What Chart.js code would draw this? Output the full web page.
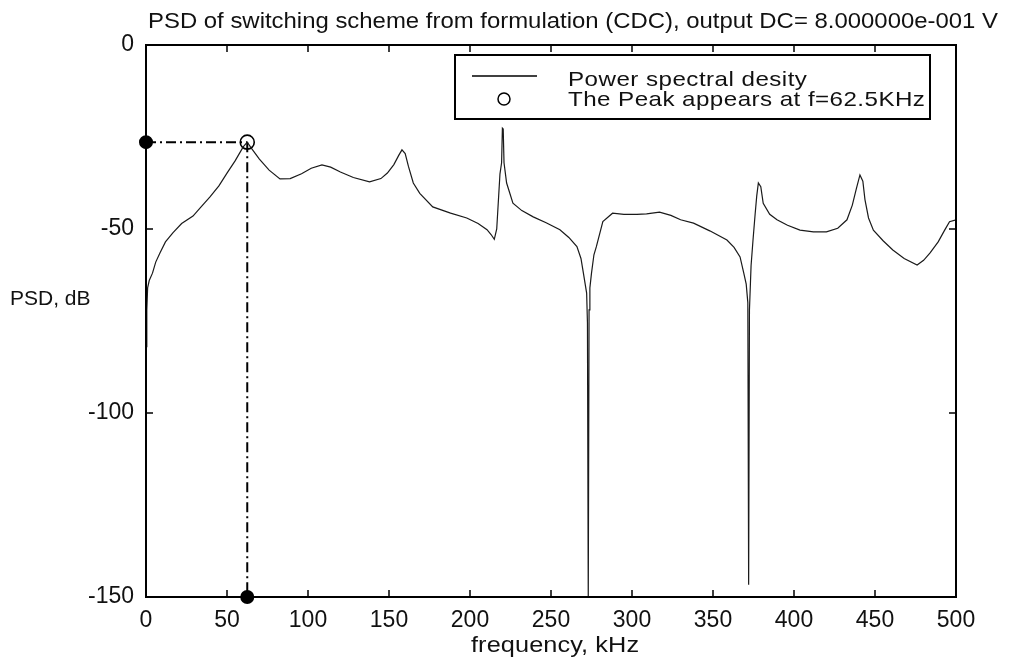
<!DOCTYPE html>
<html>
<head>
<meta charset="utf-8">
<title>PSD of switching scheme</title>
<script src="https://cdn.jsdelivr.net/npm/chart.js@4.4.1/dist/chart.umd.min.js"></script>
<style>
  html, body { margin: 0; padding: 0; background: #fff; }
  #wrap { width: 1010px; height: 661px; }
</style>
</head>
<body>
<div id="wrap"><canvas id="psdChart" width="1010" height="661"></canvas></div>
<script>
// frequency axis of the trace, kHz
const freqKHz = [
  0, 0.5, 1, 2, 4, 6, 8.6, 12, 16.7, 22,
  29, 34, 39.5, 45, 50, 55, 60, 62.5, 65, 70,
  76, 82.7, 89, 96, 102, 108.6, 114, 120, 128, 138,
  145, 149, 153, 156, 158, 160, 162, 165, 169, 177,
  188, 198, 205, 210.5, 213, 215, 216.5, 218.5, 219.5, 220,
  220.5, 221, 222.6, 226.5, 232, 239, 247, 255.5, 261, 266,
  268.5, 270, 272, 272.5, 273, 273.5, 274, 275, 276.5, 278,
  282, 288, 295, 303, 309, 317, 324, 330, 338, 348,
  358.6, 363, 366.7, 369, 370.5, 371.5, 372, 372.5, 373.5, 374.7,
  376, 377, 378, 379.5, 381, 385, 389.5, 396, 403.7, 412,
  420, 427, 432.7, 436, 438.5, 440.7, 442.5, 443.8, 446, 449,
  455, 461, 468, 476, 480, 484, 489, 493, 496, 500
];
// PSD values, dB
const psdDb = [
  -82, -72, -66, -64, -62, -59, -56.5, -53.5, -51, -48.5,
  -46.5, -44, -41.3, -38.3, -34.8, -31.5, -27.7, -26.4, -28, -31,
  -34, -36.4, -36.3, -35, -33.5, -32.6, -33.2, -34.5, -36, -37.2,
  -36.3, -34.8, -32.5, -30, -28.5, -29.5, -33, -37.5, -40.3, -44,
  -45.7, -47, -48.5, -50.2, -51.5, -52.8, -50, -35, -32, -22.6,
  -22.8, -32, -37.5, -43, -45, -46.7, -48.3, -50.2, -52.3, -54.8,
  -58, -62, -67.4, -75.5, -150, -72, -66, -62, -57, -54.8,
  -48, -45.7, -46, -46, -45.9, -45.4, -46.3, -47.5, -48.4, -50.5,
  -53, -55, -57.6, -62, -65, -70, -146.7, -72, -60, -53,
  -46, -41, -37.5, -38.5, -43, -46, -47.5, -49, -50.3, -50.8,
  -50.8, -49.8, -47.5, -43.5, -39, -35.3, -37, -42, -47, -50.3,
  -53.2, -55.7, -58, -59.8, -58.5, -56.5, -53.5, -50.3, -48, -47.5
];

const peakF = 62.5;
const peakDb = -26.4;
const xTicks = [0, 50, 100, 150, 200, 250, 300, 350, 400, 450, 500];
const yTicks = [0, -50, -100, -150];

const titleText = 'PSD of switching scheme from formulation (CDC), output DC= 8.000000e-001 V';
const xTitle = 'frequency, kHz';
const yTitle = 'PSD, dB';
const legendLabels = ['Power spectral desity', 'The Peak appears at f=62.5KHz'];

const FONT = '"Liberation Sans", Arial, Helvetica, sans-serif';
const dashDot = [10, 4, 2, 4];

// the scanned lettering is wider than Arial: stretch it, partly with spacing, partly with scale
function wideText(ctx, txt, x, y, width) {
  const w0 = ctx.measureText(txt).width;
  const k = Math.min(1.15, width / w0);
  const ls = Math.max(0, (width / k - w0) / (txt.length - 1));
  ctx.save();
  ctx.translate(x, y);
  ctx.scale(k, 1);
  ctx.letterSpacing = ls.toFixed(2) + 'px';
  ctx.fillText(txt, 0, 0);
  ctx.restore();
}

const frame = {
  id: 'frame',
  afterDraw(chart) {
    const ctx = chart.ctx;
    const a = chart.chartArea;
    const sx = chart.scales.x, sy = chart.scales.y;
    ctx.save();
    ctx.strokeStyle = '#000';
    ctx.fillStyle = '#111';

    // box
    ctx.lineWidth = 2;
    ctx.strokeRect(a.left, a.top, a.right - a.left, a.bottom - a.top);

    // inward ticks on all four sides
    ctx.lineWidth = 1.5;
    ctx.beginPath();
    xTicks.forEach(v => {
      const px = sx.getPixelForValue(v);
      ctx.moveTo(px, a.bottom); ctx.lineTo(px, a.bottom - 7);
      ctx.moveTo(px, a.top); ctx.lineTo(px, a.top + 7);
    });
    yTicks.forEach(v => {
      const py = sy.getPixelForValue(v);
      ctx.moveTo(a.left, py); ctx.lineTo(a.left + 7, py);
      ctx.moveTo(a.right, py); ctx.lineTo(a.right - 7, py);
    });
    ctx.stroke();

    // titles
    ctx.textBaseline = 'alphabetic';
    ctx.textAlign = 'left';
    ctx.font = '22px ' + FONT;
    wideText(ctx, titleText, 148, 28, 850);
    wideText(ctx, xTitle, 471, 652, 168);
    ctx.font = '21px ' + FONT;
    ctx.fillText(yTitle, 10, 305);

    // legend
    const lx = a.left + 309, ly = a.top + 10, lw = 475, lh = 64;
    ctx.fillStyle = '#fff';
    ctx.fillRect(lx, ly, lw, lh);
    ctx.lineWidth = 2;
    ctx.strokeRect(lx, ly, lw, lh);
    ctx.lineWidth = 1.5;
    ctx.beginPath();
    ctx.moveTo(lx + 17, ly + 21); ctx.lineTo(lx + 82, ly + 21);
    ctx.stroke();
    ctx.beginPath();
    ctx.arc(lx + 49, ly + 44, 6, 0, Math.PI * 2);
    ctx.stroke();
    ctx.fillStyle = '#111';
    ctx.font = '21px ' + FONT;
    wideText(ctx, legendLabels[0], lx + 113, ly + 31, 239);
    wideText(ctx, legendLabels[1], lx + 113, ly + 51, 357);
    ctx.restore();
  }
};

const ctx = document.getElementById('psdChart').getContext('2d');
const chart = new Chart(ctx, {
  type: 'line',
  data: {
    datasets: [
      {
        label: legendLabels[0],
        data: freqKHz.map((f, i) => ({ x: f, y: psdDb[i] })),
        borderColor: '#1a1a1a',
        borderWidth: 1.2,
        pointRadius: 0,
        tension: 0
      },
      {
        label: 'guide-h',
        data: [{ x: 0, y: peakDb }, { x: peakF, y: peakDb }],
        borderColor: '#000',
        borderWidth: 2,
        borderDash: dashDot,
        pointRadius: [6, 0],
        pointBackgroundColor: '#000',
        pointBorderColor: '#000',
        clip: false
      },
      {
        label: 'guide-v',
        data: [{ x: peakF, y: peakDb }, { x: peakF, y: -150 }],
        borderColor: '#000',
        borderWidth: 2,
        borderDash: dashDot,
        pointRadius: [0, 6],
        pointBackgroundColor: '#000',
        pointBorderColor: '#000',
        clip: false
      },
      {
        label: legendLabels[1],
        data: [{ x: peakF, y: peakDb }],
        showLine: false,
        pointRadius: 7,
        pointBorderWidth: 1.6,
        pointBackgroundColor: 'rgba(0,0,0,0)',
        pointBorderColor: '#000',
        clip: false
      }
    ]
  },
  options: {
    responsive: false,
    animation: false,
    devicePixelRatio: 1,
    layout: { padding: { top: 45, right: 54, bottom: 0, left: 0 } },
    plugins: {
      legend: { display: false },
      title: { display: false },
      tooltip: { enabled: false }
    },
    scales: {
      x: {
        type: 'linear',
        min: 0,
        max: 500,
        afterFit: s => { s.height = 64; },
        afterBuildTicks: s => { s.ticks = xTicks.map(v => ({ value: v })); },
        grid: { display: false, drawTicks: false },
        border: { display: false },
        ticks: { color: '#111', padding: 10, maxRotation: 0, font: { family: FONT, size: 23 } }
      },
      y: {
        min: -150,
        max: 0,
        afterFit: s => { s.width = 146; },
        afterBuildTicks: s => { s.ticks = yTicks.map(v => ({ value: v })); },
        grid: { display: false, drawTicks: false },
        border: { display: false },
        ticks: { color: '#111', padding: 12, font: { family: FONT, size: 23 } }
      }
    }
  },
  plugins: [frame]
});
</script>
</body>
</html>
